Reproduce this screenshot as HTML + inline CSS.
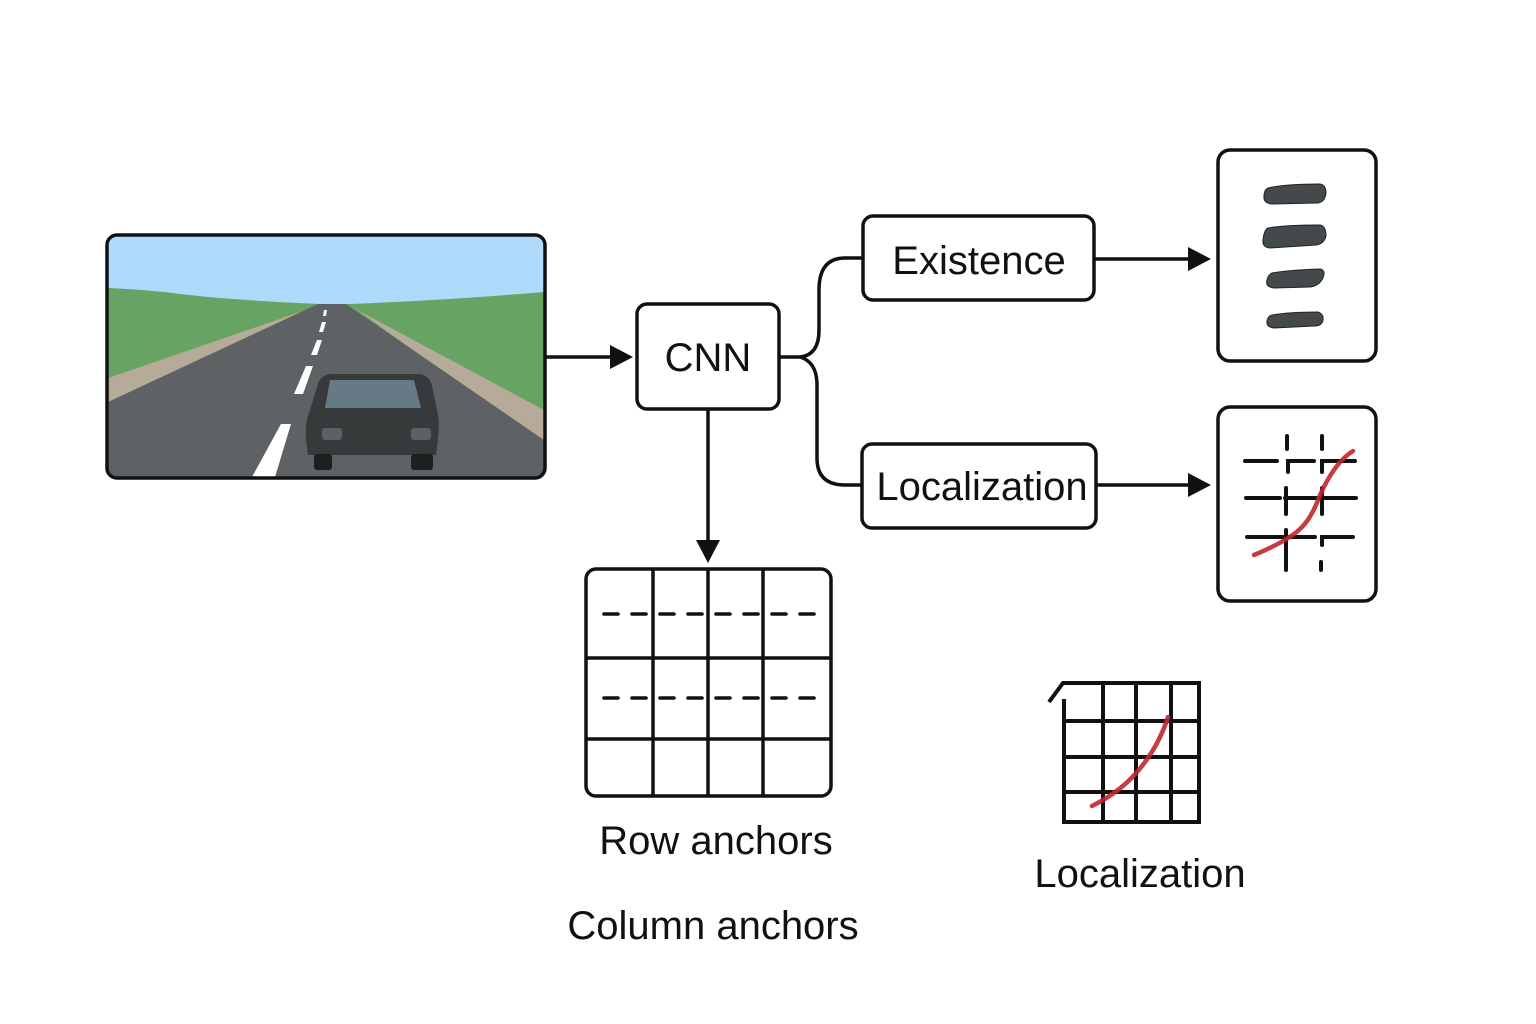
<!DOCTYPE html>
<html><head><meta charset="utf-8"><style>
html,body{margin:0;padding:0;background:#fff;}
svg{display:block;}
text{font-family:"Liberation Sans",sans-serif;fill:#111;}
</style></head><body>
<svg width="1536" height="1024" viewBox="0 0 1536 1024" xmlns="http://www.w3.org/2000/svg">
<defs>
<clipPath id="img"><rect x="108" y="236" width="436" height="241" rx="10"/></clipPath>
</defs>
<g clip-path="url(#img)">
<rect x="108" y="236" width="436" height="241" fill="#afdafb"/>
<path d="M108 288 Q150 290 180 294 Q230 300 320 304 L350 304 Q450 300 544 292 L544 477 L108 477Z" fill="#67a362"/>
<path d="M108 378 L300 312 L320 306 L108 405Z" fill="#b6ab99"/>
<path d="M350 306 L544 410 L544 444 L360 312Z" fill="#b6ab99"/>
<path d="M318 304 L346 304 L544 440 L544 477 L108 477 L108 402Z" fill="#5f6264"/>
<path d="M324 310 L327 310 L326 316 L323 316Z M322 322 L326 322 L323 332 L319 332Z M317 340 L322 340 L317 355 L311 355Z M306 366 L313 366 L303 394 L294 394Z M281 424 L291 424 L275 477 L252 477Z" fill="#fff"/>
<path d="M330 374 L420 374 Q430 376 432 386 L437 410 Q440 420 438 440 L436 455 L308 455 L306 440 Q305 420 310 410 L318 384 Q320 376 330 374Z" fill="#363a3b"/>
<path d="M330 380 L414 380 L421 408 L325 408Z" fill="#667a86"/>
<rect x="322" y="428" width="20" height="12" rx="3" fill="#5a6064"/>
<rect x="411" y="428" width="20" height="12" rx="3" fill="#5a6064"/>
<rect x="314" y="454" width="18" height="16" rx="3" fill="#1e1f20"/>
<rect x="411" y="454" width="22" height="16" rx="3" fill="#1e1f20"/>
</g>
<rect x="107" y="235" width="438" height="243" rx="10" fill="none" stroke="#111" stroke-width="3.5"/>

<g stroke="#111" stroke-width="3.5" fill="none">
<line x1="545" y1="357" x2="612" y2="357"/>
<rect x="637" y="304" width="142" height="105" rx="10" fill="#fff"/>
<line x1="708" y1="409" x2="708" y2="540"/>
<path d="M779 357 L800 357 Q819 355 819 330 L819 290 Q819 258 845 258 L863 258"/>
<path d="M800 357 Q817 362 817 385 L817 458 Q817 485 845 485 L863 485"/>
<rect x="863" y="216" width="231" height="84" rx="10" fill="#fff"/>
<rect x="862" y="444" width="234" height="84" rx="10" fill="#fff"/>
<line x1="1094" y1="259" x2="1190" y2="259"/>
<line x1="1096" y1="485" x2="1190" y2="485"/>
<rect x="1218" y="150" width="158" height="211" rx="12"/>
<rect x="1218" y="407" width="158" height="194" rx="12"/>
</g>
<g fill="#111">
<polygon points="610,345 633,357 610,369"/>
<polygon points="696,540 720,540 708,563"/>
<polygon points="1188,247 1211,259 1188,271"/>
<polygon points="1188,473 1211,485 1188,497"/>
</g>
<text x="708" y="371" font-size="40" text-anchor="middle">CNN</text>
<text x="979" y="274" font-size="40" text-anchor="middle">Existence</text>
<text x="982" y="500" font-size="40" text-anchor="middle">Localization</text>

<g fill="#444a4c" stroke="#222" stroke-width="1">
<path d="M1268 188 Q1285 184 1320 184 Q1326 185 1326 193 Q1325 202 1318 203 L1272 204 Q1263 203 1264 196 Q1264 190 1268 188Z"/>
<path d="M1268 228 Q1285 225 1320 225 Q1326 226 1326 236 Q1324 244 1316 245 L1270 248 Q1262 247 1263 240 Q1264 230 1268 228Z"/>
<path d="M1272 273 Q1290 270 1320 269 Q1326 270 1323 278 Q1319 286 1310 287 L1274 288 Q1265 287 1267 280 Q1268 275 1272 273Z"/>
<path d="M1272 315 Q1290 312 1318 312 Q1324 314 1323 320 Q1322 326 1314 326 L1274 328 Q1266 327 1267 321 Q1268 316 1272 315Z"/>
</g>

<g stroke="#111" stroke-width="4" stroke-linecap="round" fill="none">
<line x1="1245" y1="461" x2="1277" y2="461"/>
<path d="M1288 472 L1288 461 L1314 461"/>
<path d="M1322 472 L1322 461 L1355 461"/>
<line x1="1246" y1="498" x2="1280" y2="498"/>
<line x1="1285" y1="498" x2="1356" y2="498"/>
<line x1="1247" y1="537" x2="1315" y2="537"/>
<path d="M1322 545 L1322 537 L1353 537"/>
<line x1="1287" y1="436" x2="1287" y2="449"/>
<line x1="1322" y1="436" x2="1322" y2="449"/>
<line x1="1286" y1="488" x2="1286" y2="514"/>
<line x1="1322" y1="488" x2="1322" y2="514"/>
<line x1="1286" y1="530" x2="1286" y2="570"/>
<line x1="1321" y1="562" x2="1321" y2="570"/>
</g>
<path d="M1254 555 Q1290 540 1302 527 Q1312 517 1320 495 Q1335 462 1353 451" stroke="#c0282b" stroke-width="4.5" fill="none" stroke-linecap="round" opacity="0.9"/>

<g stroke="#111" stroke-width="3.5" fill="none">
<rect x="586" y="569" width="245" height="227" rx="10"/>
<line x1="653" y1="569" x2="653" y2="796"/>
<line x1="708" y1="569" x2="708" y2="796"/>
<line x1="763" y1="569" x2="763" y2="796"/>
<line x1="586" y1="658" x2="831" y2="658"/>
<line x1="586" y1="739" x2="831" y2="739"/>
<line x1="604" y1="614" x2="822" y2="614" stroke-dasharray="14,14" stroke-linecap="round"/>
<line x1="604" y1="698" x2="822" y2="698" stroke-dasharray="14,14" stroke-linecap="round"/>
</g>
<text x="716" y="854" font-size="40" text-anchor="middle">Row anchors</text>
<text x="713" y="939" font-size="40" text-anchor="middle">Column anchors</text>

<g stroke="#111" stroke-width="4" fill="none">
<path d="M1049 702 L1063 683 L1199 683 L1199 822 L1064 822 L1064 699"/>
<line x1="1103" y1="683" x2="1103" y2="822"/>
<line x1="1136" y1="683" x2="1136" y2="822"/>
<line x1="1171" y1="683" x2="1171" y2="822"/>
<line x1="1064" y1="721" x2="1199" y2="721"/>
<line x1="1064" y1="757" x2="1199" y2="757"/>
<line x1="1064" y1="792" x2="1199" y2="792"/>
</g>
<path d="M1092 806 Q1120 792 1137 772 Q1158 748 1168 717" stroke="#c0282b" stroke-width="4.5" fill="none" stroke-linecap="round" opacity="0.9"/>
<text x="1140" y="887" font-size="40" text-anchor="middle">Localization</text>
</svg>
</body></html>
